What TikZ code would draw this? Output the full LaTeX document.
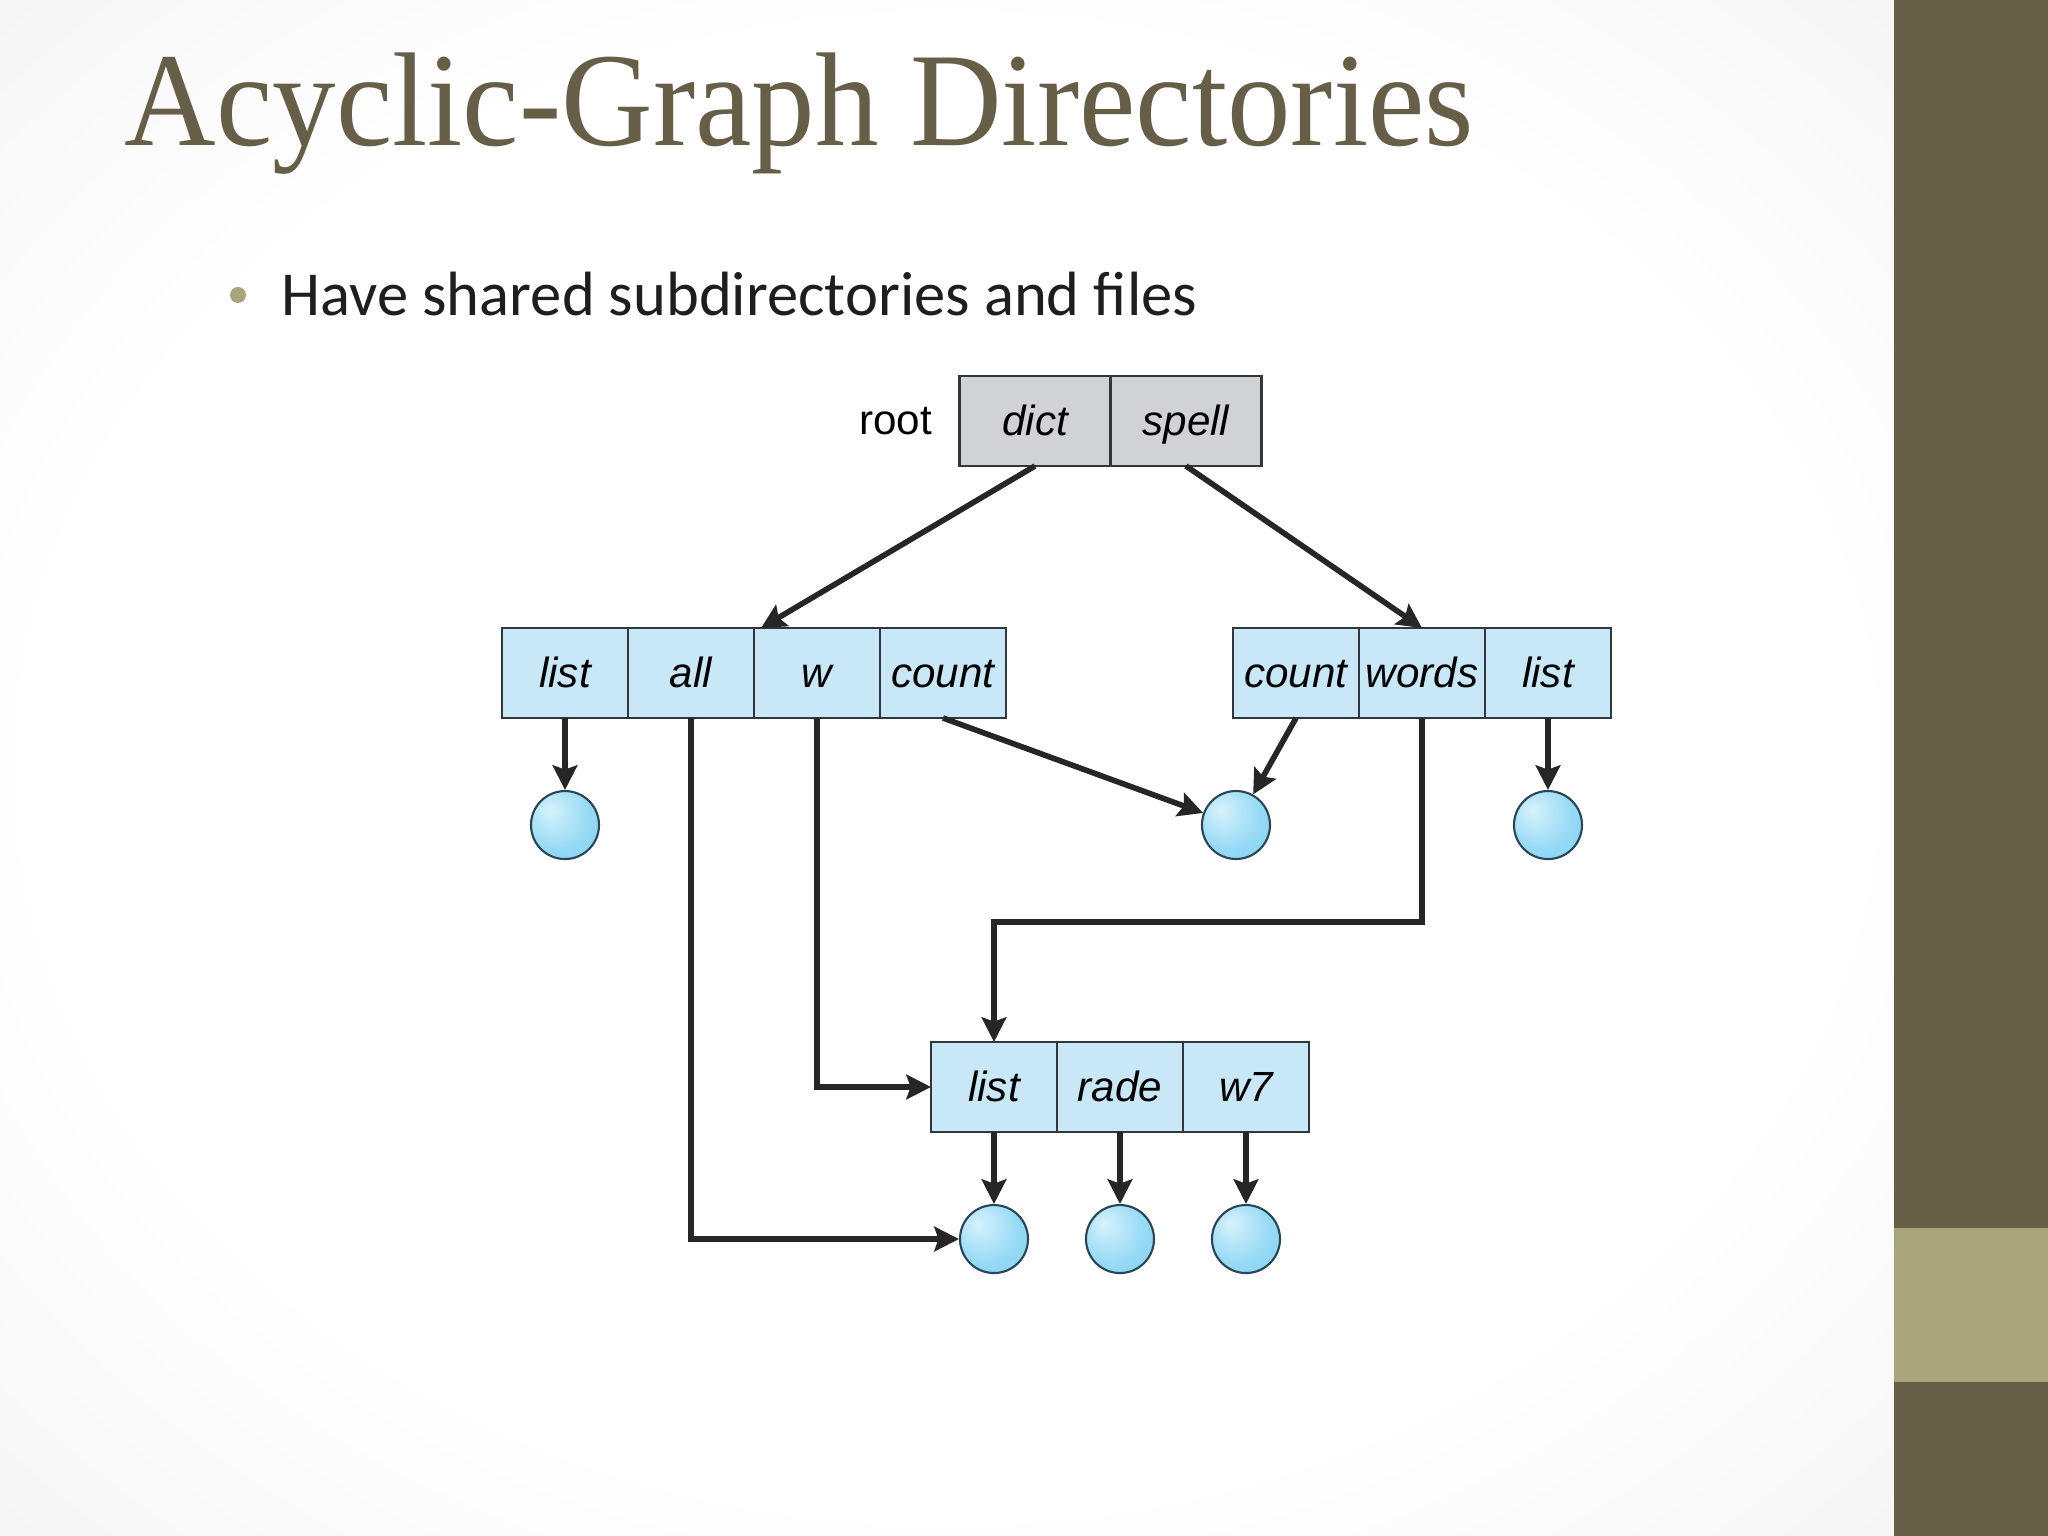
\documentclass[tikz,border=0pt]{standalone}
\usepackage{fontspec}
\usepackage{graphicx}
\usetikzlibrary{arrows.meta, positioning}
\setmainfont{Liberation Serif}
\newfontfamily\diagfont{Liberation Sans}
\newfontfamily\bodyfont{Carlito}
\definecolor{slideolive}{RGB}{103,94,72}
\definecolor{slidesage}{RGB}{168,165,125}
\definecolor{bgedge}{RGB}{234,234,234}
\definecolor{bgcorner}{RGB}{216,216,216}
\definecolor{cellblue}{RGB}{200,232,247}
\definecolor{rootgray}{RGB}{209,210,212}
\definecolor{edgegray}{RGB}{50,55,60}
\definecolor{balllight}{RGB}{215,242,252}
\definecolor{ballmid}{RGB}{150,218,245}
\definecolor{ballblue}{RGB}{108,198,236}
\definecolor{balledge}{RGB}{40,70,85}
\definecolor{bodytext}{RGB}{30,30,30}
\pgfdeclareradialshading{slidebg}{\pgfpoint{0bp}{0bp}}{color(0bp)=(white); color(24bp)=(white); color(50bp)=(bgedge); color(72bp)=(bgcorner)}
\pgfdeclareradialshading{filebulb}{\pgfpoint{-12bp}{12bp}}{color(0bp)=(balllight); color(25bp)=(ballmid); color(60bp)=(ballblue)}

\begin{document}
\begin{tikzpicture}[
  cell/.style={draw=edgegray, line width=0.7pt, fill=cellblue, minimum width=1.26cm, minimum height=0.9cm, inner sep=0pt, outer sep=0pt, text height=2.1ex, text depth=0.3ex, font=\diagfont\fontsize{12}{14}\selectfont\itshape},
  rootcell/.style={cell, fill=rootgray, minimum width=1.51cm},
  file/.style={circle, draw=balledge, line width=0.6pt, minimum size=0.68cm, inner sep=0pt, shade, shading=filebulb},
  link/.style={-{Stealth[length=7pt, width=7pt, inset=1.2pt]}, line width=1.6pt, draw=black!85}
]
  \useasboundingbox (0,0) rectangle (20.48,-15.36);

  % slide background
  \shade[shading=slidebg] (0,0) rectangle (18.94,-15.36);
  \fill[slideolive] (18.94,0) rectangle (20.48,-15.36);
  \fill[slidesage] (18.94,-12.28) rectangle (20.48,-13.82);

  % title and bullet
  \node[anchor=base west, inner sep=0pt, text=slideolive, font=\fontsize{38}{42}\selectfont] (title) at (1.24,-1.46) {\scalebox{0.95}[1]{Acyclic-Graph Directories}};
  \node[circle, fill=slidesage, minimum size=0.16cm, inner sep=0pt] (dot) at (2.38,-2.95) {};
  \node[anchor=base west, inner sep=0pt, text=bodytext, font=\bodyfont\fontsize{17.8}{22}\selectfont] (bullet) at (2.81,-3.16) {Have shared subdirectories and files};

  % root directory
  \node[rootcell] (dict) at (10.35,-4.21) {dict};
  \node[rootcell, right=0pt of dict] (spell) {spell};
  \node[left=0.15cm of dict, font=\diagfont\fontsize{12}{14}\selectfont] (rootlbl) {root};

  % dict directory
  \node[cell] (llist) at (5.65,-6.73) {list};
  \node[cell, right=0pt of llist] (lall) {all};
  \node[cell, right=0pt of lall] (lw) {w};
  \node[cell, right=0pt of lw] (lcount) {count};

  % spell directory
  \node[cell] (rcount) at (12.96,-6.73) {count};
  \node[cell, right=0pt of rcount] (rwords) {words};
  \node[cell, right=0pt of rwords] (rlist) {list};

  % shared subdirectory
  \node[cell] (blist) at (9.94,-10.87) {list};
  \node[cell, right=0pt of blist] (brade) {rade};
  \node[cell, right=0pt of brade] (bw7) {w7};

  % files
  \node[file, below=0.72cm of llist] (fl) {};
  \node[file] (fshared) at (12.36,-8.25) {};
  \node[file, below=0.72cm of rlist] (fr) {};
  \node[file, below=0.72cm of blist] (fb1) {};
  \node[file, below=0.72cm of brade] (fb2) {};
  \node[file, below=0.72cm of bw7] (fb3) {};

  % links
  \draw[link] (dict.south) -- ([xshift=2pt]lw.north west);
  \draw[link] (spell.south) -- (rwords.north);
  \draw[link] (llist.south) -- (fl);
  \draw[link] (lcount.south) -- (fshared);
  \draw[link] (rcount.south) -- (fshared);
  \draw[link] (rlist.south) -- (fr);
  \draw[link] (rwords.south) -- ++(0,-2.04) -| (blist.north);
  \draw[link] (lw.south) |- (blist.west);
  \draw[link] (lall.south) |- (fb1.west);
  \draw[link] (blist.south) -- (fb1);
  \draw[link] (brade.south) -- (fb2);
  \draw[link] (bw7.south) -- (fb3);
\end{tikzpicture}
\end{document}
